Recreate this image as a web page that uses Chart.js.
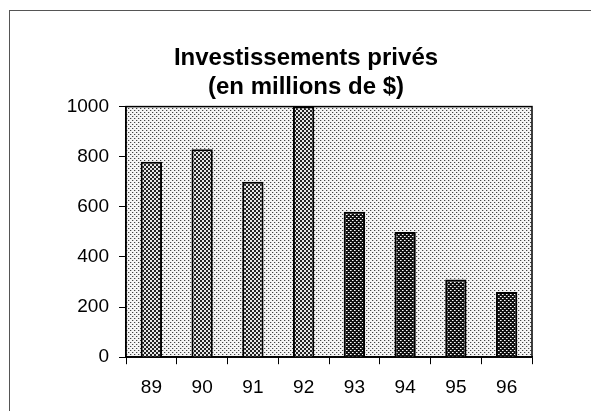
<!DOCTYPE html>
<html>
<head>
<meta charset="utf-8">
<script src="https://cdn.jsdelivr.net/npm/chart.js@4"></script>
<style>
  html, body { margin:0; padding:0; background:#fff; }
  #wrap { width:591px; height:411px; position:relative; }
</style>
</head>
<body>
<div id="wrap"><canvas id="chart" width="591" height="411"></canvas></div>
<script>
// ── Data ───────────────────────────────────────────────────────────
const YEARS  = ['89', '90', '91', '92', '93', '94', '95', '96'];
const VALUES = [780, 830, 700, 1000, 580, 500, 310, 260];
const Y_TICKS = [0, 200, 400, 600, 800, 1000];
const TITLE  = ['Investissements privés', '(en millions de $)'];

// ── Patterns (scanned halftone look) ───────────────────────────────
function makePattern(size, base, dots) {
  const c = document.createElement('canvas');
  c.width = size; c.height = size;
  const g = c.getContext('2d');
  g.fillStyle = base; g.fillRect(0, 0, size, size);
  dots.forEach(([x, y, col, w]) => { g.fillStyle = col; g.fillRect(x, y, w || 1, w || 1); });
  return g.createPattern(c, 'repeat');
}
const ctx = document.getElementById('chart').getContext('2d');
const bgPat    = makePattern(4, '#f4f4f4', [[0,0,'#444'],[2,2,'#444'],[1,0,'#c4c4c4'],[3,2,'#c4c4c4']]);
const lightPat = makePattern(4, '#e6e6e6', [[0,0,'#222',2],[2,2,'#222',2]]);
const darkPat  = makePattern(4, '#111',    [[0,0,'#fff'],[2,2,'#fff'],[1,0,'#999'],[3,2,'#999']]);

const FONT = "'Liberation Sans', Arial, sans-serif";

const framePlugin = {
  id: 'frame',
  afterLayout(chart) {
    // let the "1000" label spill left of the padded box without clipping
    chart.scales.y.left = 0;
  },
  beforeDraw(chart) {
    const { ctx, chartArea: a } = chart;
    ctx.save();
    ctx.strokeStyle = '#555'; ctx.lineWidth = 1;
    ctx.strokeRect(9.5, 10.5, 700, 600);
    ctx.fillStyle = bgPat;
    ctx.fillRect(a.left, a.top, a.right - a.left, a.bottom - a.top);
    ctx.restore();
  },
  afterDatasetsDraw(chart) {
    const { ctx, chartArea: a } = chart;
    ctx.save();
    ctx.strokeStyle = '#000'; ctx.lineWidth = 1.5;
    ctx.strokeRect(a.left, a.top, a.right - a.left, a.bottom - a.top);
    ctx.restore();
  }
};

new Chart(ctx, {
  type: 'bar',
  data: {
    labels: YEARS,
    datasets: [{
      data: VALUES,
      backgroundColor: c => c.dataIndex < 4 ? lightPat : darkPat,
      borderColor: '#000',
      borderWidth: 2,
      categoryPercentage: 1,
      barPercentage: 0.42
    }]
  },
  options: {
    responsive: false,
    animation: false,
    layout: { padding: { left: 80, right: 59, top: 0, bottom: 0 } },
    plugins: {
      legend: { display: false },
      tooltip: { enabled: false },
      title: {
        display: true,
        text: TITLE,
        color: '#000',
        font: { family: FONT, size: 24, weight: 'bold', lineHeight: 1.2 },
        padding: { top: 44, bottom: 5 }
      }
    },
    scales: {
      x: {
        grid: { display: true, drawOnChartArea: false, drawTicks: true, tickLength: 7, color: '#000', offset: true },
        border: { display: true, color: '#000', width: 1.5 },
        ticks: { color: '#000', font: { family: FONT, size: 19 }, padding: 12, maxRotation: 0 }
      },
      y: {
        min: 0, max: 1000,
        afterBuildTicks: s => { s.ticks = Y_TICKS.map(v => ({ value: v })); },
        afterFit: s => { s.width = 46; },
        grid: { display: true, drawOnChartArea: false, drawTicks: true, tickLength: 7, color: '#000' },
        border: { display: true, color: '#000', width: 1.5 },
        ticks: { color: '#000', font: { family: FONT, size: 19 }, padding: 10, callback: v => String(v) }
      }
    }
  },
  plugins: [framePlugin]
});
</script>
</body>
</html>
